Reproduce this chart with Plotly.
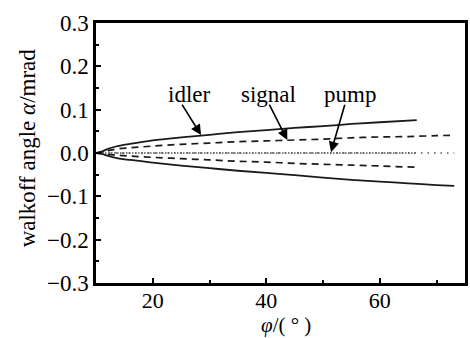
import plotly.graph_objects as go

# idler (upper branch, ends ~66.5)
idler_a_x = [10, 11, 12, 13.5, 16, 20, 25, 30, 35, 40, 45, 50, 55, 60, 66.5]
idler_a_y = [0, 0.003, 0.009, 0.015, 0.021, 0.029, 0.036, 0.042, 0.048, 0.053, 0.058, 0.062, 0.067, 0.071, 0.076]
# idler (lower branch, ends ~73)
idler_b_x = [10, 11, 12, 13.5, 16, 20, 25, 30, 35, 40, 45, 50, 55, 60, 65, 70, 73.1]
idler_b_y = [0, -0.002, -0.006, -0.011, -0.016, -0.022, -0.029, -0.035, -0.041, -0.046, -0.051, -0.057, -0.062, -0.066, -0.070, -0.074, -0.076]
# signal (upper branch, ends ~73)
signal_a_x = [10, 11, 12, 13.5, 16, 20, 25, 30, 35, 40, 45, 50, 55, 60, 65, 70, 73.1]
signal_a_y = [0, 0.002, 0.005, 0.009, 0.012, 0.016, 0.020, 0.023, 0.026, 0.028, 0.030, 0.032, 0.035, 0.037, 0.038, 0.040, 0.041]
# signal (lower branch, ends ~66.5)
signal_b_x = [10, 11, 12, 13.5, 16, 20, 25, 30, 35, 40, 45, 50, 55, 60, 66.5]
signal_b_y = [0, -0.001, -0.003, -0.005, -0.007, -0.010, -0.013, -0.016, -0.019, -0.021, -0.024, -0.026, -0.028, -0.030, -0.033]
# pump
pump_a_x = [10, 66.5]
pump_a_y = [0, 0]
pump_b_x = [10, 73.1]
pump_b_y = [0, 0]

x_ticks = [20, 40, 60]
y_ticks = [-0.3, -0.2, -0.1, 0.0, 0.1, 0.2, 0.3]
x_title = "<i>φ</i>/( ° )"
y_title = "walkoff angle <i>α</i>/mrad"
labels = ["idler", "signal", "pump"]
label_pos = [(26.4, 0.136), (40.4, 0.136), (54.7, 0.136)]
arrow_tail = [(25.0, 0.115), (40.4, 0.115), (53.9, 0.115)]
arrow_head = [(28.5, 0.0415), (43.7, 0.030), (51.4, 0.002)]

FONT = "Liberation Serif, Times New Roman, serif"
FS = 23
ink = "#1a1a1a"

fig = go.Figure()
fig.add_trace(go.Scatter(x=idler_a_x, y=idler_a_y, mode="lines", line=dict(color=ink, width=1.8, shape="spline")))
fig.add_trace(go.Scatter(x=idler_b_x, y=idler_b_y, mode="lines", line=dict(color=ink, width=1.8, shape="spline")))
fig.add_trace(go.Scatter(x=signal_a_x, y=signal_a_y, mode="lines", line=dict(color=ink, width=1.7, dash="7px,5px", shape="spline")))
fig.add_trace(go.Scatter(x=signal_b_x, y=signal_b_y, mode="lines", line=dict(color=ink, width=1.7, dash="7px,5px", shape="spline")))
fig.add_trace(go.Scatter(x=pump_a_x, y=pump_a_y, mode="lines", line=dict(color="#555555", width=1.4, dash="1.5px,1.5px")))
fig.add_trace(go.Scatter(x=pump_b_x, y=pump_b_y, mode="lines", line=dict(color="#555555", width=1.4, dash="1.5px,5px")))

for t, (lx, ly) in zip(labels, label_pos):
    fig.add_annotation(x=lx, y=ly, text=t, showarrow=False, font=dict(family=FONT, size=FS, color="black"))
for (tx, ty), (hx, hy) in zip(arrow_tail, arrow_head):
    fig.add_annotation(x=hx, y=hy, ax=tx, ay=ty, axref="x", ayref="y", text="", showarrow=True,
                       arrowhead=2, arrowsize=1.3, arrowwidth=1.6, arrowcolor="black")

# axis titles as paper-anchored annotations
fig.add_annotation(x=0.514, y=-0.16, xref="paper", yref="paper", text=x_title, showarrow=False,
                   xanchor="center", yanchor="middle", font=dict(family=FONT, size=21, color="black"))
fig.add_annotation(x=-0.1855, y=0.52, xref="paper", yref="paper", text=y_title, showarrow=False, textangle=-90,
                   xanchor="center", yanchor="middle", font=dict(family=FONT, size=FS, color="black"))

fig.update_layout(
    width=470, height=338,
    margin=dict(l=96, r=2, t=23, b=55),
    plot_bgcolor="white", paper_bgcolor="white",
    showlegend=False,
    font=dict(family=FONT, size=FS, color="black"),
)
fig.update_xaxes(range=[10, 75], tickvals=x_ticks, ticks="inside", ticklen=5, tickwidth=2, tickcolor="black",
                 showline=True, linewidth=2.5, linecolor="black", mirror=True, showgrid=False, zeroline=False,
                 minor=dict(ticks="inside", ticklen=3, tickwidth=2, tickcolor="black", tickvals=[30, 50, 70]),
                 ticklabelstandoff=-4,
                 tickfont=dict(family=FONT, size=22))
fig.update_yaxes(range=[-0.3, 0.3], tickvals=y_ticks, tickformat=".1f", ticks="inside", ticklen=5, tickwidth=2,
                 tickcolor="black", showline=True, linewidth=2.5, linecolor="black", mirror=True, showgrid=False,
                 zeroline=False,
                 minor=dict(ticks="inside", ticklen=3, tickwidth=2, tickcolor="black",
                            tickvals=[-0.25, -0.15, -0.05, 0.05, 0.15, 0.25]),
                 tickfont=dict(family=FONT, size=FS))

fig.write_html("out.html")
